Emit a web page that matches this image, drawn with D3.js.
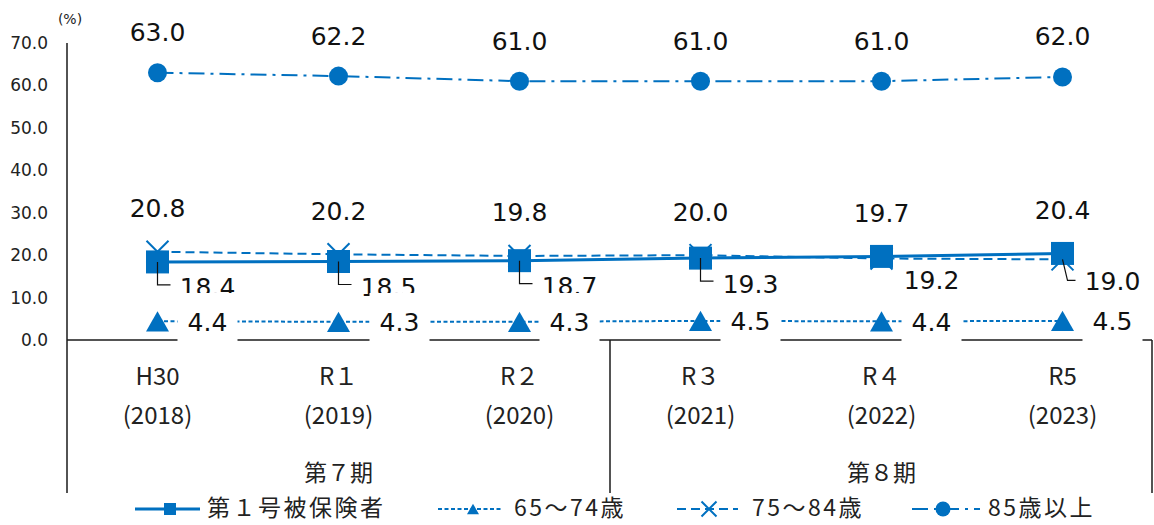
<!DOCTYPE html>
<html>
<head>
<meta charset="utf-8">
<script src="https://cdn.jsdelivr.net/npm/d3@7"></script>
<style>
  html, body { margin: 0; padding: 0; background: #fff; }
  svg { display: block; }
</style>
</head>
<body>
<div id="chart"></div>
<script>
// ---------------- data ----------------
const categories = ["H30", "R１", "R２", "R３", "R４", "R5"];
const years = ["(2018)", "(2019)", "(2020)", "(2021)", "(2022)", "(2023)"];
const periods = ["第７期", "第８期"];
const periodSpans = [[0, 2], [3, 5]];
const seriesNames = ["第１号被保険者", "65～74歳", "75～84歳", "85歳以上"];
const insured = [18.4, 18.5, 18.7, 19.3, 19.7, 20.4];
const age65to74 = [4.4, 4.3, 4.3, 4.5, 4.4, 4.5];
const age75to84 = [20.8, 20.2, 19.8, 20.0, 19.2, 19.0];
const age85plus = [63.0, 62.2, 61.0, 61.0, 61.0, 62.0];
const yTicks = [0, 10, 20, 30, 40, 50, 60, 70];

(function () {
// ---------------- layout ----------------
const W = 1154, H = 525;
const plotLeft = 67, plotRight = 1153, plotTop = 43, base = 340, bottomLine = 493;
const blue = "#0070C0";
const numFont = "'DejaVu Sans', Verdana, sans-serif";
const jpFont = "'Noto Sans CJK JP', 'Noto Sans', sans-serif";

const svg = d3.select("#chart").append("svg").attr("width", W).attr("height", H);

const x = d3.scaleBand().domain(d3.range(categories.length)).range([plotLeft, plotRight]);
const cx = i => x(i) + x.bandwidth() / 2;
const y = d3.scaleLinear().domain([0, 70]).range([base, plotTop]);

// y axis tick labels
const yAxis = d3.axisLeft(y).tickValues(yTicks).tickFormat(d3.format(".1f")).tickSize(0).tickPadding(19);
const yg = svg.append("g").attr("transform", `translate(${plotLeft},0)`).call(yAxis);
yg.select(".domain").remove();
yg.selectAll("text").attr("font-family", numFont).attr("font-size", 17).attr("fill", "#222");

svg.append("text").attr("x", 70).attr("y", 24).attr("text-anchor", "middle")
  .attr("font-family", numFont).attr("font-size", 14).attr("fill", "#222").text("(%)");

// axis lines
const axisColor = "#1a1a1a";
svg.append("line").attr("x1", plotLeft).attr("x2", plotLeft).attr("y1", plotTop).attr("y2", bottomLine)
  .attr("stroke", axisColor).attr("stroke-width", 1.5);
svg.append("line").attr("x1", plotLeft).attr("x2", plotRight - 1).attr("y1", base).attr("y2", base)
  .attr("stroke", axisColor).attr("stroke-width", 1.5);
[x(3), plotRight - 1].forEach(px => {
  svg.append("line").attr("x1", px).attr("x2", px).attr("y1", base).attr("y2", bottomLine)
    .attr("stroke", axisColor).attr("stroke-width", 1.5);
});

// category labels
categories.forEach((c, i) => {
  svg.append("text").attr("x", cx(i)).attr("y", 385).attr("text-anchor", "middle")
    .attr("font-family", jpFont).attr("font-size", 24).attr("fill", "#222").text(c);
  svg.append("text").attr("x", cx(i)).attr("y", 424).attr("text-anchor", "middle")
    .attr("font-family", jpFont).attr("font-size", 24).attr("fill", "#222").text(years[i]);
});
periods.forEach((p, k) => {
  const [a, b] = periodSpans[k];
  svg.append("text").attr("x", (cx(a) + cx(b)) / 2).attr("y", 481).attr("text-anchor", "middle")
    .attr("font-family", jpFont).attr("font-size", 23).attr("fill", "#222").text(p);
});

// ---------------- series ----------------
const line = d3.line().x((d, i) => cx(i)).y(d => y(d));
const styles = [
  { data: insured, dash: null, width: 3, marker: "square" },
  { data: age65to74, dash: "4,2.5", width: 2, marker: "triangle" },
  { data: age75to84, dash: "9,5", width: 2, marker: "cross" },
  { data: age85plus, dash: "16,6,3,6", width: 2, marker: "circle" }
];

function drawMarker(g, type, px, py, s) {
  if (type === "square") {
    g.append("rect").attr("x", px - s / 2).attr("y", py - s / 2).attr("width", s).attr("height", s)
      .attr("fill", blue);
  } else if (type === "triangle") {
    const h = s * 0.88;
    g.append("path").attr("d", `M${px},${py - h / 2}L${px + s / 2},${py + h / 2}L${px - s / 2},${py + h / 2}Z`)
      .attr("fill", blue);
  } else if (type === "cross") {
    const r = s / 2;
    g.append("path").attr("d", `M${px - r},${py - r}L${px + r},${py + r}M${px + r},${py - r}L${px - r},${py + r}`)
      .attr("stroke", blue).attr("stroke-width", 2).attr("fill", "none");
  } else if (type === "circle") {
    g.append("circle").attr("cx", px).attr("cy", py).attr("r", s / 2).attr("fill", blue);
  }
}

const order = [2, 3, 1, 0];
const markerSizes = { square: 23, triangle: 23, cross: 22, circle: 19 };
order.forEach(k => {
  const st = styles[k];
  const g = svg.append("g");
  g.append("path").attr("d", line(st.data)).attr("fill", "none").attr("stroke", blue)
    .attr("stroke-width", st.width).attr("stroke-dasharray", st.dash);
  st.data.forEach((v, i) => drawMarker(g, st.marker, cx(i), y(v), markerSizes[st.marker]));
});

// ---------------- data labels ----------------
const fmt = d3.format(".1f");
const lbl = svg.append("g").attr("font-family", numFont).attr("font-size", 25).attr("fill", "#111");

age85plus.forEach((v, i) => {
  lbl.append("text").attr("x", cx(i)).attr("y", y(v) - 40).attr("text-anchor", "middle")
    .attr("dominant-baseline", "central").text(fmt(v));
});

const leaderDx = [0, 0, 0, 0, null, 5];
insured.forEach((v, i) => {
  const w = age75to84[i];
  const hi = Math.max(v, w), lo = Math.min(v, w);
  lbl.append("text").attr("x", cx(i)).attr("y", y(hi) - 43).attr("text-anchor", "middle")
    .attr("dominant-baseline", "central").text(fmt(hi));
  const lx = cx(i) + 50;
  const ly = leaderDx[i] === null ? y(lo) + 22 : (i === 5 ? y(lo) + 22 : y(lo) + 26);
  lbl.append("text").attr("x", lx).attr("y", ly).attr("text-anchor", "middle")
    .attr("dominant-baseline", "central").text(fmt(lo));
  if (leaderDx[i] !== null) {
    const ldy = i === 5 ? ly - 1 : ly - 3;
    svg.append("path")
      .attr("d", `M${cx(i)},${y(lo)}L${cx(i) + leaderDx[i]},${ldy}L${lx - 37},${ldy}`)
      .attr("fill", "none").attr("stroke", "#111").attr("stroke-width", 1.2);
  }
});

const offs = [50, 61, 50, 50, 50, 50];
age65to74.forEach((v, i) => {
  const lx = cx(i) + offs[i];
  svg.append("rect").attr("x", lx - 30).attr("y", 293).attr("width", 60).attr("height", 49).attr("fill", "#fff");
  svg.append("text").attr("x", lx).attr("y", y(v) + 1).attr("text-anchor", "middle")
    .attr("dominant-baseline", "central").attr("font-family", numFont).attr("font-size", 25)
    .attr("fill", "#111").text(fmt(v));
});

// ---------------- legend ----------------
const legend = [
  { x1: 135, x2: 200, mx: 170, tx: 207, ms: 12 },
  { x1: 438, x2: 503, mx: 473, tx: 514, ms: 12 },
  { x1: 677, x2: 738, mx: 709, tx: 752, ms: 15 },
  { x1: 912, x2: 980, mx: 943, tx: 988, ms: 15 }
];
const ly0 = 509;
const lg = svg.append("g");
legend.forEach((L, k) => {
  const st = styles[k];
  lg.append("line").attr("x1", L.x1).attr("x2", L.x2).attr("y1", ly0).attr("y2", ly0)
    .attr("stroke", blue).attr("stroke-width", st.width).attr("stroke-dasharray", st.dash);
  drawMarker(lg, st.marker, L.mx, ly0, L.ms);
  lg.append("text").attr("x", L.tx).attr("y", 516)
    .attr("font-family", jpFont).attr("font-size", 23).attr("letter-spacing", 2.5)
    .attr("fill", "#222").text(seriesNames[k]);
});
})();
</script>
</body>
</html>
